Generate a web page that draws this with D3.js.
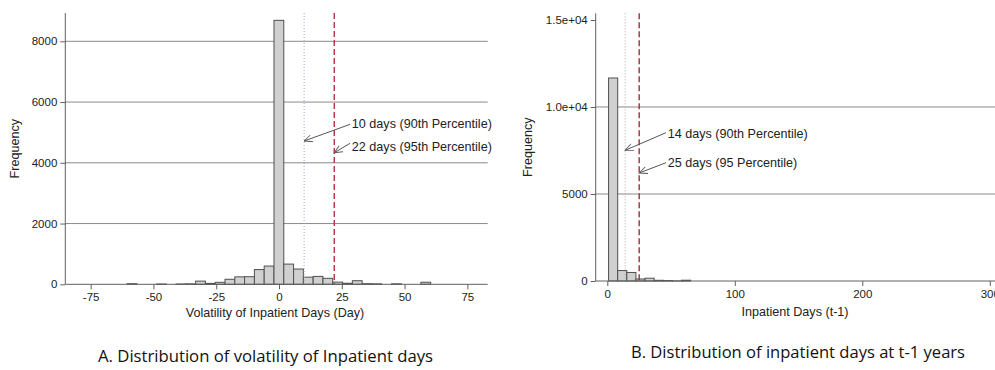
<!DOCTYPE html>
<html>
<head>
<meta charset="utf-8">
<script src="https://cdn.jsdelivr.net/npm/d3@7"></script>
<style>
  body { margin: 0; background: #fff; }
  svg { display: block; font-family: "Liberation Sans", Arial, sans-serif; }
</style>
</head>
<body>
<script>
// panel A: volatility of inpatient days, bins of 3.9 days
var volBinStart = [-60.5, -56.6, -52.7, -48.8, -44.9, -41, -37.1, -33.2, -29.3, -25.4,
  -21.5, -17.6, -13.7, -9.8, -5.9, -2, 1.9, 5.8, 9.7, 13.6, 17.5, 21.4, 25.3, 29.2,
  33.1, 37, 40.9, 44.8, 48.7, 52.6, 56.5];
var volCounts = [20, 0, 0, 10, 0, 10, 15, 105, 30, 66, 165, 245, 250, 485, 600, 8690,
  665, 503, 235, 260, 197, 72, 35, 118, 20, 15, 0, 15, 0, 0, 68];
var volBinWidth = 3.9;
var volXTicks = [-75, -50, -25, 0, 25, 50, 75];
var volYTicks = [0, 2000, 4000, 6000, 8000];
var volP90 = 10, volP95 = 22;

// panel B: inpatient days at t-1, bins of 7.15 days
var ipdBinStart = [1, 8.15, 15.3, 22.45, 29.6, 36.75, 43.9, 51.05, 58.2, 65.35];
var ipdCounts = [11667, 600, 490, 115, 160, 40, 25, 5, 45, 0];
var ipdBinWidth = 7.15;
var ipdXTicks = [0, 100, 200, 300];
var ipdYTicks = [0, 5000, 10000, 15000];
var ipdYLabels = ["0", "5000", "1.0e+04", "1.5e+04"];
var ipdP90 = 14, ipdP95 = 25;

var svg = d3.select("body").append("svg")
    .attr("width", 995)
    .attr("height", 370);

svg.append("defs").append("marker")
    .attr("id", "arr")
    .attr("viewBox", "0 0 10 10")
    .attr("refX", 9).attr("refY", 5)
    .attr("markerWidth", 9).attr("markerHeight", 9)
    .attr("markerUnits", "userSpaceOnUse")
    .attr("orient", "auto")
  .append("path")
    .attr("d", "M0,1 L9,5 L0,9")
    .attr("fill", "none")
    .attr("stroke", "#555")
    .attr("stroke-width", 1);

function panel(opt) {
    var g = svg.append("g");
    var x = d3.scaleLinear().domain(opt.xDomain).range(opt.xRange);
    var y = d3.scaleLinear().domain(opt.yDomain).range(opt.yRange);

    // gridlines
    g.selectAll("line.grid")
        .data(opt.grid)
        .enter().append("line")
        .attr("x1", opt.xRange[0]).attr("x2", opt.xRange[1])
        .attr("y1", d => y(d)).attr("y2", d => y(d))
        .attr("stroke", "#8a8a8a")
        .attr("stroke-width", 1);

    // bars
    var bars = opt.starts.map((s, i) => ({x0: s, x1: s + opt.binWidth, n: opt.counts[i]}))
        .filter(d => d.n > 0);
    g.selectAll("rect")
        .data(bars)
        .enter().append("rect")
        .attr("x", d => x(d.x0))
        .attr("y", d => y(d.n))
        .attr("width", d => x(d.x1) - x(d.x0))
        .attr("height", d => y(0) - y(d.n))
        .attr("fill", "#d0d0d0")
        .attr("stroke", "#505050")
        .attr("stroke-width", 1);

    // percentile lines
    g.append("line")
        .attr("x1", x(opt.p90)).attr("x2", x(opt.p90))
        .attr("y1", opt.yRange[1]).attr("y2", y(0))
        .attr("stroke", opt.dotColor)
        .attr("stroke-width", 1)
        .attr("stroke-dasharray", "1,2");
    g.append("line")
        .attr("x1", x(opt.p95)).attr("x2", x(opt.p95))
        .attr("y1", opt.yRange[1]).attr("y2", y(0))
        .attr("stroke", opt.dashColor)
        .attr("stroke-width", 1.4)
        .attr("stroke-dasharray", "6,3");

    // axes
    var xAxis = d3.axisBottom(x).tickValues(opt.xTicks).tickSize(5).tickPadding(4)
        .tickFormat(d => String(d));
    var gx = g.append("g").attr("transform", "translate(0," + y(0) + ")").call(xAxis);
    gx.select(".domain").attr("d", "M" + opt.xRange[0] + ",0H" + opt.xRange[1]);

    var yAxis = d3.axisLeft(y).tickValues(opt.yTicks).tickSize(5).tickPadding(3)
        .tickFormat((d, i) => opt.yLabels[i]);
    var gy = g.append("g").attr("transform", "translate(" + opt.xRange[0] + ",0)").call(yAxis);
    gy.select(".domain").attr("d", "M0," + opt.yRange[0] + "V" + opt.yRange[1]);

    g.selectAll(".domain").attr("stroke", "#606060");
    g.selectAll(".tick line").attr("stroke", "#606060");
    g.selectAll(".tick text")
        .attr("font-family", "Liberation Sans, Arial, sans-serif")
        .attr("font-size", 11.5)
        .attr("fill", "#222");

    // axis titles
    g.append("text")
        .attr("x", opt.xTitleX).attr("y", opt.xTitleY)
        .attr("text-anchor", "middle")
        .attr("font-size", 12.6).attr("fill", "#222")
        .text(opt.xTitle);
    g.append("text")
        .attr("transform", "translate(" + opt.yTitleX + "," + ((opt.yRange[0] + opt.yRange[1]) / 2) + ") rotate(-90)")
        .attr("text-anchor", "middle")
        .attr("dy", "0.35em")
        .attr("font-size", 12.6).attr("fill", "#222")
        .text("Frequency");

    // annotations
    opt.notes.forEach(function(a) {
        g.append("line")
            .attr("x1", x(a.fx)).attr("y1", y(a.fy))
            .attr("x2", x(a.tx)).attr("y2", y(a.ty))
            .attr("stroke", "#555").attr("stroke-width", 1)
            .attr("marker-end", "url(#arr)");
        g.append("text")
            .attr("x", x(a.lx)).attr("y", y(a.ly))
            .attr("dy", "0.35em")
            .attr("font-size", 12.6).attr("fill", "#222")
            .text(a.label);
    });
}

panel({
    xDomain: [-85.1, 83.1], xRange: [65.3, 487.7],
    yDomain: [0, 8932], yRange: [284.3, 13],
    starts: volBinStart, counts: volCounts, binWidth: volBinWidth,
    grid: [2000, 4000, 6000, 8000],
    xTicks: volXTicks, yTicks: volYTicks, yLabels: volYTicks.map(String),
    p90: volP90, p95: volP95,
    dotColor: "#8fa8cc", dashColor: "#b8323a",
    xTitle: "Volatility of Inpatient Days (Day)", xTitleX: 275, xTitleY: 317,
    yTitleX: 15,
    notes: [
        {label: "10 days (90th Percentile)", lx: 29, ly: 5300, fx: 28.3, fy: 5267, tx: 10, ty: 4717},
        {label: "22 days (95th Percentile)", lx: 29, ly: 4530, fx: 28.3, fy: 4642, tx: 22, ty: 4332}
    ]
});

panel({
    xDomain: [-9.1, 304.1], xRange: [595.7, 995],
    yDomain: [0, 15385], yRange: [281, 13.3],
    starts: ipdBinStart, counts: ipdCounts, binWidth: ipdBinWidth,
    grid: [5000, 10000],
    xTicks: ipdXTicks, yTicks: ipdYTicks, yLabels: ipdYLabels,
    p90: ipdP90, p95: ipdP95,
    dotColor: "#a8a8a8", dashColor: "#9a3038",
    xTitle: "Inpatient Days (t-1)", xTitleX: 795, xTitleY: 316,
    yTitleX: 528,
    notes: [
        {label: "14 days (90th Percentile)", lx: 47.4, ly: 8465, fx: 46, fy: 8523, tx: 14, ty: 7511},
        {label: "25 days (95 Percentile)", lx: 47.4, ly: 6822, fx: 46, fy: 6799, tx: 25, ty: 6207}
    ]
});

// panel captions
var captions = [
    {text: "A. Distribution of volatility of Inpatient days", x: 98, y: 362, len: 335},
    {text: "B. Distribution of inpatient days at t-1 years", x: 631, y: 358, len: 334}
];
svg.selectAll("text.caption")
    .data(captions)
    .enter().append("text")
    .attr("class", "caption")
    .attr("x", d => d.x).attr("y", d => d.y)
    .attr("font-family", "Open Sans, Noto Sans, sans-serif")
    .attr("font-size", 16.5)
    .attr("fill", "#111")
    .attr("textLength", d => d.len)
    .attr("lengthAdjust", "spacingAndGlyphs")
    .text(d => d.text);
</script>
</body>
</html>
